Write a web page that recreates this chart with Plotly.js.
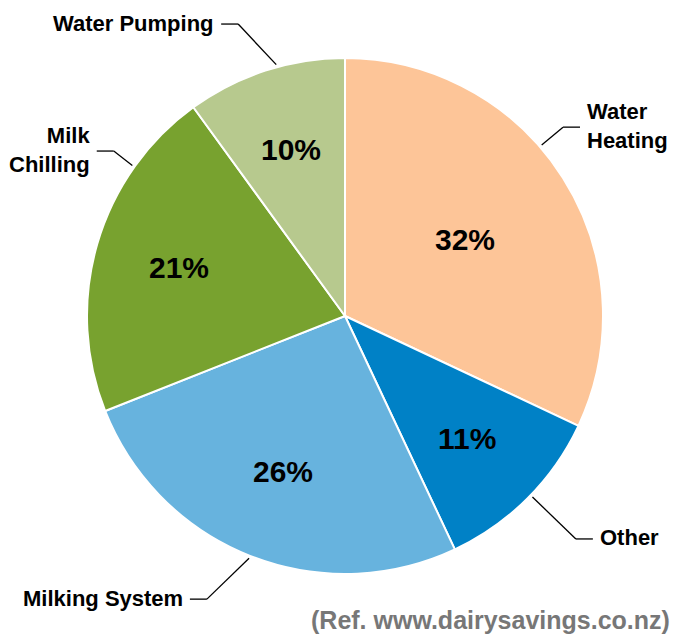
<!DOCTYPE html>
<html>
<head>
<meta charset="utf-8">
<script src="https://cdn.plot.ly/plotly-3.0.1.min.js"></script>
<style>html,body{margin:0;padding:0;background:#fff;}#chart{width:684px;height:637px;}</style>
</head>
<body>
<div id="chart"></div>
<script>
// ---- data ----
const categories = ['Water Heating', 'Other', 'Milking System', 'Milk Chilling', 'Water Pumping'];
const displayLabels = ['Water<br>Heating', 'Other', 'Milking System', 'Milk<br>Chilling', 'Water Pumping'];
const shares = [32, 11, 26, 21, 10];
const sliceColors = ['#FDC598', '#0081C6', '#67B3DE', '#78A22F', '#B7C98E'];
const sourceNote = '(Ref. www.dairysavings.co.nz)';

// ---- styling (label placement) ----
const W = 684, H = 637;
const cx = 345, cy = 316, R = 258;
const pctRadius = [0.55, 0.67, 0.65, 0.67, 0.68];
const leaderAngle = [49, 134, 201.6, 305.3, 344.7];
const elbowAngle = [49.1, 134, 206, 305.5, 339.9];
const elbowR = [1.118, 1.244, 1.221, 1.101, 1.205];
const side = [1, 1, -1, -1, -1];
const FONT = '"Liberation Sans", Arial, Helvetica, sans-serif';

function toPaper(x, y) { return [x / W, 1 - y / H]; }
function polar(deg, r) { const a = deg * Math.PI / 180; return [cx + r * Math.sin(a), cy - r * Math.cos(a)]; }

const total = shares.reduce((a, b) => a + b, 0);
const annotations = [];
const shapes = [];
let cum = 0;
shares.forEach((v, i) => {
  const mid = (cum + v / 2) / total * 360;
  cum += v;
  // percentage label
  const p = toPaper(...polar(mid, R * pctRadius[i]));
  annotations.push({
    x: p[0], y: p[1], xref: 'paper', yref: 'paper', showarrow: false,
    text: '<b>' + Math.round(v / total * 100) + '%</b>',
    font: {family: FONT, size: 30, color: '#000'},
    xanchor: 'center', yanchor: 'middle'
  });
  // leader line
  const s = polar(leaderAngle[i], R * 1.01);
  const e = polar(elbowAngle[i], R * elbowR[i]);
  const t = [e[0] + side[i] * 17, e[1]];
  const ps = toPaper(...s), pe = toPaper(...e), pt = toPaper(...t);
  shapes.push({type: 'line', xref: 'paper', yref: 'paper', x0: ps[0], y0: ps[1], x1: pe[0], y1: pe[1], line: {color: '#000', width: 1.3}});
  shapes.push({type: 'line', xref: 'paper', yref: 'paper', x0: pe[0], y0: pe[1], x1: pt[0], y1: pt[1], line: {color: '#000', width: 1.3}});
  const pl = toPaper(t[0] + side[i] * 5, t[1] - 1);
  annotations.push({
    x: pl[0], y: pl[1], xref: 'paper', yref: 'paper', showarrow: false,
    text: '<b>' + displayLabels[i] + '</b>',
    font: {family: FONT, size: 22, color: '#000'},
    xanchor: side[i] > 0 ? 'left' : 'right', yanchor: 'middle',
    align: side[i] > 0 ? 'left' : 'right'
  });
});
annotations.push({
  x: 672 / W, y: 1 - 620 / H, xref: 'paper', yref: 'paper', showarrow: false,
  text: '<b>' + sourceNote + '</b>',
  font: {family: FONT, size: 25, color: '#777777'},
  xanchor: 'right', yanchor: 'middle'
});

const trace = {
  type: 'pie',
  labels: categories,
  values: shares,
  sort: false,
  direction: 'clockwise',
  rotation: 0,
  textinfo: 'none',
  hoverinfo: 'label+percent',
  marker: {colors: sliceColors, line: {color: '#ffffff', width: 2}},
  domain: {x: [(cx - R) / W, (cx + R) / W], y: [1 - (cy + R) / H, 1 - (cy - R) / H]},
  showlegend: false
};

Plotly.newPlot('chart', [trace], {
  width: W, height: H,
  margin: {l: 0, r: 0, t: 0, b: 0},
  paper_bgcolor: '#fff',
  showlegend: false,
  annotations: annotations,
  shapes: shapes
}, {displayModeBar: false, staticPlot: true});
</script>
</body>
</html>
